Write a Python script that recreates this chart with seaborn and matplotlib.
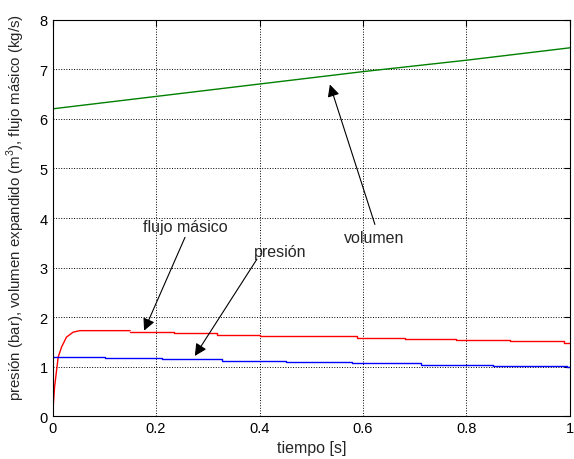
import matplotlib
matplotlib.use("Agg")
import matplotlib.pyplot as plt
import seaborn as sns
import pandas as pd

# ---- data ----
vol_t = [0.0, 0.2, 0.4, 0.6, 0.8, 1.0]
vol_y = [6.2, 6.45, 6.7, 6.95, 7.18, 7.43]

flujo_rise_t = [0.0, 0.004, 0.011, 0.0175, 0.027, 0.04, 0.053, 0.15]
flujo_rise_y = [0.0, 0.6, 1.2, 1.4, 1.6, 1.7, 1.73, 1.73]
flujo_step_t = [0.15, 0.234, 0.317, 0.40, 0.494, 0.588, 0.681, 0.779, 0.884, 0.988, 1.0]
flujo_step_y = [1.71, 1.68, 1.65, 1.63, 1.615, 1.59, 1.57, 1.545, 1.515, 1.49, 1.49]

pres_t = [0.0, 0.102, 0.211, 0.327, 0.452, 0.578, 0.713, 0.851, 0.995, 1.0]
pres_y = [1.205, 1.18, 1.16, 1.125, 1.10, 1.07, 1.046, 1.026, 1.0, 1.0]

xticks = [0, 0.2, 0.4, 0.6, 0.8, 1]
xticklabels = ["0", "0.2", "0.4", "0.6", "0.8", "1"]
yticks = [0, 1, 2, 3, 4, 5, 6, 7, 8]

# annotations: text, text position, arrow tail, arrow tip
ann_labels = ["flujo másico", "presión", "volumen"]
ann_text_xy = [(0.256, 3.83), (0.44, 3.33), (0.621, 3.61)]
ann_tail_xy = [(0.256, 3.61), (0.395, 3.17), (0.623, 3.87)]
ann_tip_xy = [(0.177, 1.73), (0.275, 1.22), (0.536, 6.69)]

# ---- style ----
sns.set_style("white")
plt.rcParams['font.family'] = ['Liberation Sans', 'DejaVu Sans']
plt.rcParams['mathtext.fontset'] = 'custom'
plt.rcParams['mathtext.rm'] = 'Liberation Sans'

fig = plt.figure(figsize=(5.74, 4.6), dpi=100)
ax = fig.add_axes([0.0915, 0.0924, 0.9015, 0.8630])

sns.lineplot(x=vol_t, y=vol_y, ax=ax, color=(0, 0.5, 0), lw=1.0, estimator=None, sort=False)
sns.lineplot(x=flujo_rise_t, y=flujo_rise_y, ax=ax, color=(1, 0, 0), lw=1.0, estimator=None, sort=False)
sns.lineplot(x=flujo_step_t, y=flujo_step_y, ax=ax, color=(1, 0, 0), lw=1.0, estimator=None, sort=False,
             drawstyle='steps-post')
sns.lineplot(x=pres_t, y=pres_y, ax=ax, color=(0, 0, 1), lw=1.0, estimator=None, sort=False,
             drawstyle='steps-post')

ax.set_xlim(0, 1)
ax.set_ylim(0, 8)
ax.set_xticks(xticks)
ax.set_xticklabels(xticklabels)
ax.set_yticks(yticks)
ax.grid(True, color='black', linestyle=':', linewidth=0.7)
ax.tick_params(direction='in', length=4, labelsize=10.5, colors='black', top=True, right=True)
for s in ax.spines.values():
    s.set_color('black')
    s.set_linewidth(0.8)
    s.set_visible(True)

ax.set_xlabel("tiempo [s]", fontsize=11.5, labelpad=3)
ax.set_ylabel("presión (bar), volumen expandido (m$^3$), flujo másico (kg/s)", fontsize=10.8)
ax.yaxis.set_label_coords(-0.05, 0.53)

for lab, txy, tail, tip in zip(ann_labels, ann_text_xy, ann_tail_xy, ann_tip_xy):
    ax.text(txy[0], txy[1], lab, fontsize=11.5, ha='center', va='center')
    ax.annotate("", xy=tip, xytext=tail,
                arrowprops=dict(arrowstyle='-|>', color='black', lw=0.8,
                                mutation_scale=18, shrinkA=0, shrinkB=0))

fig.savefig("out.png", dpi=100)
